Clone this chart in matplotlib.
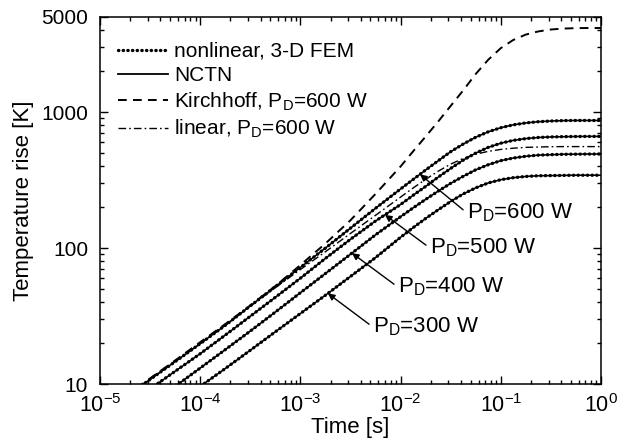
import matplotlib
matplotlib.use('Agg')
import matplotlib.pyplot as plt
from matplotlib.lines import Line2D
from matplotlib.ticker import LogLocator, NullFormatter
import numpy as np

plt.rcParams['font.family'] = ['Liberation Sans', 'DejaVu Sans']
plt.rcParams['mathtext.fontset'] = 'custom'
plt.rcParams['mathtext.rm'] = 'Liberation Sans'
plt.rcParams['mathtext.it'] = 'Liberation Sans:italic'
plt.rcParams['mathtext.default'] = 'regular'

# time [s]: quarter decades up to 1e-2, then eighth decades through the knee
time_s = [1e-5, 1.78e-5, 3.16e-5, 5.62e-5,
          1e-4, 1.78e-4, 3.16e-4, 5.62e-4,
          1e-3, 1.78e-3, 3.16e-3, 5.62e-3,
          1e-2, 1.33e-2, 1.78e-2, 2.37e-2, 3.16e-2, 4.22e-2, 5.62e-2, 7.5e-2,
          0.1, 0.133, 0.178, 0.237, 0.316, 0.422, 0.562, 0.75, 1.0]

# temperature rise [K]; nonlinear FEM dots and NCTN line coincide
temp_600 = [5.9, 8.0, 10.8, 14.6, 19.8, 27, 37.5, 52, 72, 100, 140, 196, 272,
            319, 375, 438, 511, 582, 653, 716, 767,
            805, 832, 849, 859, 865, 867, 867, 867]
temp_500 = [5.2, 6.9, 9.2, 12.4, 16.7, 22.9, 31.5, 43.4, 60, 84, 116, 158, 209,
            244, 284, 332, 385, 443, 499, 550, 590,
            619, 638, 650, 656, 659, 661, 662, 662]
temp_400 = [3.9, 5.3, 7.15, 9.6, 13.1, 17.9, 24.5, 33.8, 46.9, 65, 90, 125, 170,
            197, 228, 262, 299, 337, 376, 410, 439,
            459, 473, 482, 486, 489, 490, 491, 491]
temp_300 = [3.05, 4.0, 5.3, 7.1, 9.6, 13, 17.7, 24.2, 33, 45, 61.8, 85, 120,
            141, 165, 191, 220, 250, 277, 301, 318,
            329, 336, 340, 341, 342, 343, 343, 343]
kirchhoff_600 = [6.0, 8.1, 11.0, 14.9, 20.3, 27.6, 37.8, 52.5, 75, 108, 160, 250, 398,
                 513, 661, 851, 1109, 1445, 1905, 2427, 2951,
                 3388, 3715, 3917, 4046, 4111, 4140, 4150, 4150]
linear_600 = [5.9, 8.0, 10.8, 14.6, 19.8, 27, 37.3, 51, 69.5, 94, 128, 174, 237,
              276, 320, 367, 414, 456, 490, 514, 531,
              542, 550, 553, 556, 557, 557, 557, 557]

powers = ['600', '500', '400', '300']
curves = [temp_600, temp_500, temp_400, temp_300]
# arrow tip times and label positions (data coords)
tip_t = [0.0156, 0.00698, 0.00327, 0.00188]
label_xy = [(0.046, 181), (0.0196, 100), (0.0094, 51.6), (0.0053, 26.2)]

fig = plt.figure(figsize=(6.3, 4.43), dpi=100)
ax = fig.add_axes([100 / 630, 59 / 443, 501 / 630, 367 / 443])

dot_style = dict(color='k', lw=2.4, linestyle=(0, (0.1, 1.3)),
                 dash_capstyle='round')
dash_style = dict(color='k', lw=1.4, linestyle=(0, (4.5, 3.2)))
dashdot_style = dict(color='k', lw=1.0, linestyle=(0, (5.5, 2.2, 1.2, 2.2)))

for temp in curves:
    ax.plot(time_s, temp, color='k', lw=1.1)
    ax.plot(time_s, temp, **dot_style)

ax.plot(time_s, kirchhoff_600, **dash_style)
ax.plot(time_s, linear_600, **dashdot_style)

ax.set_xscale('log')
ax.set_yscale('log')
ax.set_xlim(1e-5, 1)
ax.set_ylim(10, 5000)

ax.set_yticks([10, 100, 1000, 5000])
ax.set_yticklabels(['10', '100', '1000', '5000'])
ax.yaxis.set_minor_locator(LogLocator(base=10, subs=np.arange(2, 10)))
ax.yaxis.set_minor_formatter(NullFormatter())
ax.xaxis.set_minor_locator(LogLocator(base=10, subs=np.arange(2, 10)))
ax.xaxis.set_minor_formatter(NullFormatter())

ax.tick_params(which='both', direction='in', top=True, right=True, width=1.0)
ax.tick_params(which='major', length=6)
ax.tick_params(which='minor', length=3)
ax.tick_params(axis='x', which='major', labelsize=15.5, pad=7)
ax.tick_params(axis='y', which='major', labelsize=15, pad=8.5)
for sp in ax.spines.values():
    sp.set_linewidth(1.1)

ax.set_xlabel('Time [s]', fontsize=16, labelpad=0)
ax.set_ylabel('Temperature rise [K]', fontsize=16, labelpad=5)

for p, temp, tt, (lx, ly) in zip(powers, curves, tip_t, label_xy):
    tip_T = 10 ** np.interp(np.log10(tt), np.log10(time_s), np.log10(temp))
    ax.annotate('P$_D$=' + p + ' W', xy=(tt, tip_T), xytext=(lx, ly),
                fontsize=16, ha='left', va='center',
                arrowprops=dict(arrowstyle='-|>', color='k', lw=1.0,
                                mutation_scale=10, shrinkA=1, shrinkB=0,
                                relpos=(0, 0.5)))

handles = [Line2D([], [], **dot_style),
           Line2D([], [], color='k', lw=1.3),
           Line2D([], [], **dash_style),
           Line2D([], [], **dashdot_style)]
labels = ['nonlinear, 3-D FEM', 'NCTN', 'Kirchhoff, P$_D$=600 W',
          'linear, P$_D$=600 W']
ax.legend(handles, labels, loc='upper left', bbox_to_anchor=(0.035, 0.932),
          frameon=False, fontsize=15, handlelength=2.4, handletextpad=0.3,
          labelspacing=0.25, borderpad=0, borderaxespad=0)

fig.savefig('out.png', dpi=100)
